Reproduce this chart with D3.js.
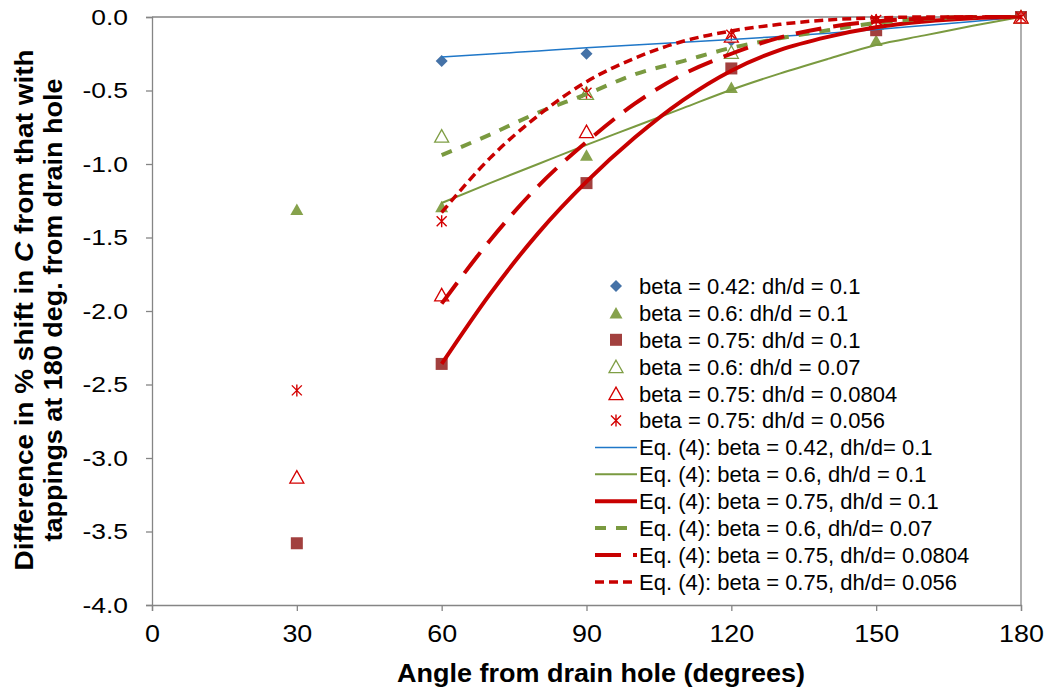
<!DOCTYPE html>
<html>
<head>
<meta charset="utf-8">
<script src="https://cdn.jsdelivr.net/npm/d3@7"></script>
<style>
  html, body { margin: 0; padding: 0; background: #ffffff; }
  svg { display: block; font-family: Arial, "Liberation Sans", sans-serif; }
</style>
</head>
<body>
<svg id="chart" width="1047" height="691"></svg>
<script>
// Measured points: angle of tapping from the drain hole vs. shift in C
const pointAngles = [30, 60, 90, 120, 150, 180];
const b042_dh010 = [null, -0.30, -0.25, -0.16, -0.08, 0];
const b060_dh010 = [-1.31, -1.29, -0.94, -0.48, -0.16, 0];
const b075_dh010 = [-3.58, -2.36, -1.13, -0.35, -0.09, 0];
const b060_dh007 = [null, -0.81, -0.52, -0.24, -0.04, 0];
const b075_dh0804 = [-3.13, -1.89, -0.78, -0.13, -0.03, 0];
const b075_dh056 = [-2.54, -1.39, -0.515, -0.12, -0.02, 0];

// Eq. (4) curves, read at 10-degree steps
const eqAngles = [60, 70, 80, 90, 100, 110, 120, 130, 140, 150, 160, 170, 180];
const eq_b042_dh010 = [-0.272, -0.252, -0.231, -0.21, -0.191, -0.172, -0.153, -0.132, -0.11, -0.085, -0.058, -0.03, 0];
const eq_b060_dh010 = [-1.265, -1.13, -1.0, -0.87, -0.745, -0.62, -0.495, -0.385, -0.285, -0.19, -0.125, -0.06, 0];
const eq_b075_dh010 = [-2.36, -1.885, -1.47, -1.12, -0.82, -0.565, -0.365, -0.225, -0.135, -0.07, -0.03, -0.008, 0];
const eq_b060_dh007 = [-0.94, -0.80, -0.65, -0.525, -0.39, -0.30, -0.21, -0.145, -0.09, -0.04, -0.012, 0, 0];
const eq_b075_dh0804 = [-1.95, -1.52, -1.15, -0.85, -0.59, -0.39, -0.25, -0.14, -0.07, -0.03, -0.01, 0, 0];
const eq_b075_dh056 = [-1.33, -0.96, -0.67, -0.44, -0.28, -0.165, -0.095, -0.05, -0.02, -0.006, 0, 0, 0];

const xTicks = [0, 30, 60, 90, 120, 150, 180];
const yTicks = [0, -0.5, -1.0, -1.5, -2.0, -2.5, -3.0, -3.5, -4.0];

const pointLabels = [
  "beta = 0.42: dh/d = 0.1",
  "beta = 0.6: dh/d = 0.1",
  "beta = 0.75: dh/d = 0.1",
  "beta = 0.6: dh/d = 0.07",
  "beta = 0.75: dh/d = 0.0804",
  "beta = 0.75: dh/d = 0.056"
];
const curveLabels = [
  "Eq. (4): beta = 0.42, dh/d= 0.1",
  "Eq. (4): beta = 0.6, dh/d = 0.1",
  "Eq. (4): beta = 0.75, dh/d = 0.1",
  "Eq. (4): beta = 0.6, dh/d= 0.07",
  "Eq. (4): beta = 0.75, dh/d= 0.0804",
  "Eq. (4): beta = 0.75, dh/d= 0.056"
];

const svg = d3.select("#chart");
svg.append("rect").attr("width", 1047).attr("height", 691).attr("fill", "#fff");

const plotLeft = 152, plotRight = 1021, plotTop = 17, plotBottom = 605;
const x = d3.scaleLinear().domain([0, 180]).range([plotLeft, plotRight]);
const y = d3.scaleLinear().domain([-4, 0]).range([plotBottom, plotTop]);

const axisColor = "#858585";

// frame
svg.append("line").attr("x1", plotLeft).attr("x2", plotRight).attr("y1", plotTop).attr("y2", plotTop)
  .attr("stroke", axisColor).attr("stroke-width", 1.3);
svg.append("line").attr("x1", plotRight).attr("x2", plotRight).attr("y1", plotTop).attr("y2", plotBottom)
  .attr("stroke", axisColor).attr("stroke-width", 1.3);

const fmt = d => d3.format(".1f")(d).replace("\u2212", "-");

const yAxis = svg.append("g").attr("transform", `translate(${plotLeft},0)`)
  .call(d3.axisLeft(y).tickValues(yTicks).tickFormat(fmt).tickSize(6).tickPadding(20));
const xAxis = svg.append("g").attr("transform", `translate(0,${plotBottom})`)
  .call(d3.axisBottom(x).tickValues(xTicks).tickSize(6).tickPadding(14));

[yAxis, xAxis].forEach(g => {
  g.select(".domain").attr("stroke", axisColor).attr("stroke-width", 1.3);
  g.selectAll(".tick line").attr("stroke", axisColor).attr("stroke-width", 1.3);
  g.selectAll(".tick text").attr("fill", "#000").attr("font-family", "Arial, 'Liberation Sans', sans-serif");
});
yAxis.selectAll(".tick text").attr("font-size", 22).attr("x", 0)
  .attr("transform", "translate(-24,0) scale(1.2,1)");
xAxis.selectAll(".tick text").attr("font-size", 24).attr("transform", "scale(1.12,1)");

// axis titles
svg.append("text").attr("x", 601).attr("y", 682).attr("text-anchor", "middle")
  .attr("font-size", 26).attr("font-weight", "bold")
  .attr("textLength", 408).attr("lengthAdjust", "spacingAndGlyphs")
  .text("Angle from drain hole (degrees)");

const yt1 = svg.append("text").attr("transform", "translate(33,310) rotate(-90)")
  .attr("text-anchor", "middle").attr("font-size", 26).attr("font-weight", "bold")
  .attr("textLength", 521).attr("lengthAdjust", "spacingAndGlyphs");
yt1.append("tspan").text("Difference in % shift in ");
yt1.append("tspan").attr("font-style", "italic").text("C");
yt1.append("tspan").text(" from that with");
svg.append("text").attr("transform", "translate(62,310) rotate(-90)")
  .attr("text-anchor", "middle").attr("font-size", 26).attr("font-weight", "bold")
  .attr("textLength", 463).attr("lengthAdjust", "spacingAndGlyphs")
  .text("tappings at 180 deg. from drain hole");

// marker shapes
const shapes = {
  diamond: (g, c) => g.append("path").attr("d", "M0,-6L6,0L0,6L-6,0Z").attr("fill", c),
  triangle: (g, c) => g.append("path").attr("d", "M0,-6L6.5,5.5L-6.5,5.5Z").attr("fill", c),
  square: (g, c) => g.append("rect").attr("x", -6).attr("y", -6).attr("width", 12).attr("height", 12).attr("fill", c),
  openTriangle: (g, c) => g.append("path").attr("d", "M0,-6.5L7,6L-7,6Z")
    .attr("fill", "#fff").attr("stroke", c).attr("stroke-width", 1.3),
  star: (g, c) => g.append("path").attr("d", "M-5,-5L5,5M-5,5L5,-5M0,-6L0,6")
    .attr("fill", "none").attr("stroke", c).attr("stroke-width", 1.4)
};

const pointSeries = [
  { values: b042_dh010, shape: "diamond", color: "#4572a7" },
  { values: b060_dh010, shape: "triangle", color: "#86a24c" },
  { values: b075_dh010, shape: "square", color: "#a2403e" },
  { values: b060_dh007, shape: "openTriangle", color: "#7f9e45" },
  { values: b075_dh0804, shape: "openTriangle", color: "#d40000" },
  { values: b075_dh056, shape: "star", color: "#d40000" }
];

const curveSeries = [
  { values: eq_b042_dh010, color: "#1f77c8", width: 1.5, dash: null },
  { values: eq_b060_dh010, color: "#7a9a40", width: 2, dash: null },
  { values: eq_b075_dh010, color: "#c80000", width: 4, dash: null },
  { values: eq_b060_dh007, color: "#7a9a40", width: 4, dash: "11,10" },
  { values: eq_b075_dh0804, color: "#c80000", width: 4, dash: "26,12" },
  { values: eq_b075_dh056, color: "#c80000", width: 3.5, dash: "9,5" }
];

// data markers
const markersLayer = svg.append("g");
pointSeries.forEach(s => {
  pointAngles.forEach((a, i) => {
    const v = s.values[i];
    if (v === null) return;
    const g = markersLayer.append("g").attr("transform", `translate(${x(a)},${y(v)})`);
    shapes[s.shape](g, s.color);
  });
});

// Eq. (4) curves
const line = d3.line().x(d => x(d[0])).y(d => y(d[1])).curve(d3.curveMonotoneX);
const curvesLayer = svg.append("g");
curveSeries.forEach(s => {
  curvesLayer.append("path")
    .attr("d", line(eqAngles.map((a, i) => [a, s.values[i]])))
    .attr("fill", "none").attr("stroke", s.color).attr("stroke-width", s.width)
    .attr("stroke-dasharray", s.dash);
});

// legend
const legend = svg.append("g");
const rowY = i => 286 + i * 26.9;
pointSeries.forEach((s, i) => {
  const g = legend.append("g").attr("transform", `translate(616,${rowY(i)})`);
  shapes[s.shape](g, s.color);
  legend.append("text").attr("x", 639).attr("y", rowY(i)).attr("dy", "0.36em")
    .attr("font-size", 22).text(pointLabels[i]);
});
curveSeries.forEach((s, i) => {
  const yy = rowY(i + 6);
  legend.append("line").attr("x1", 595).attr("x2", 637).attr("y1", yy).attr("y2", yy)
    .attr("stroke", s.color).attr("stroke-width", s.width).attr("stroke-dasharray", s.dash);
  legend.append("text").attr("x", 639).attr("y", yy).attr("dy", "0.36em")
    .attr("font-size", 22).text(curveLabels[i]);
});
</script>
</body>
</html>
